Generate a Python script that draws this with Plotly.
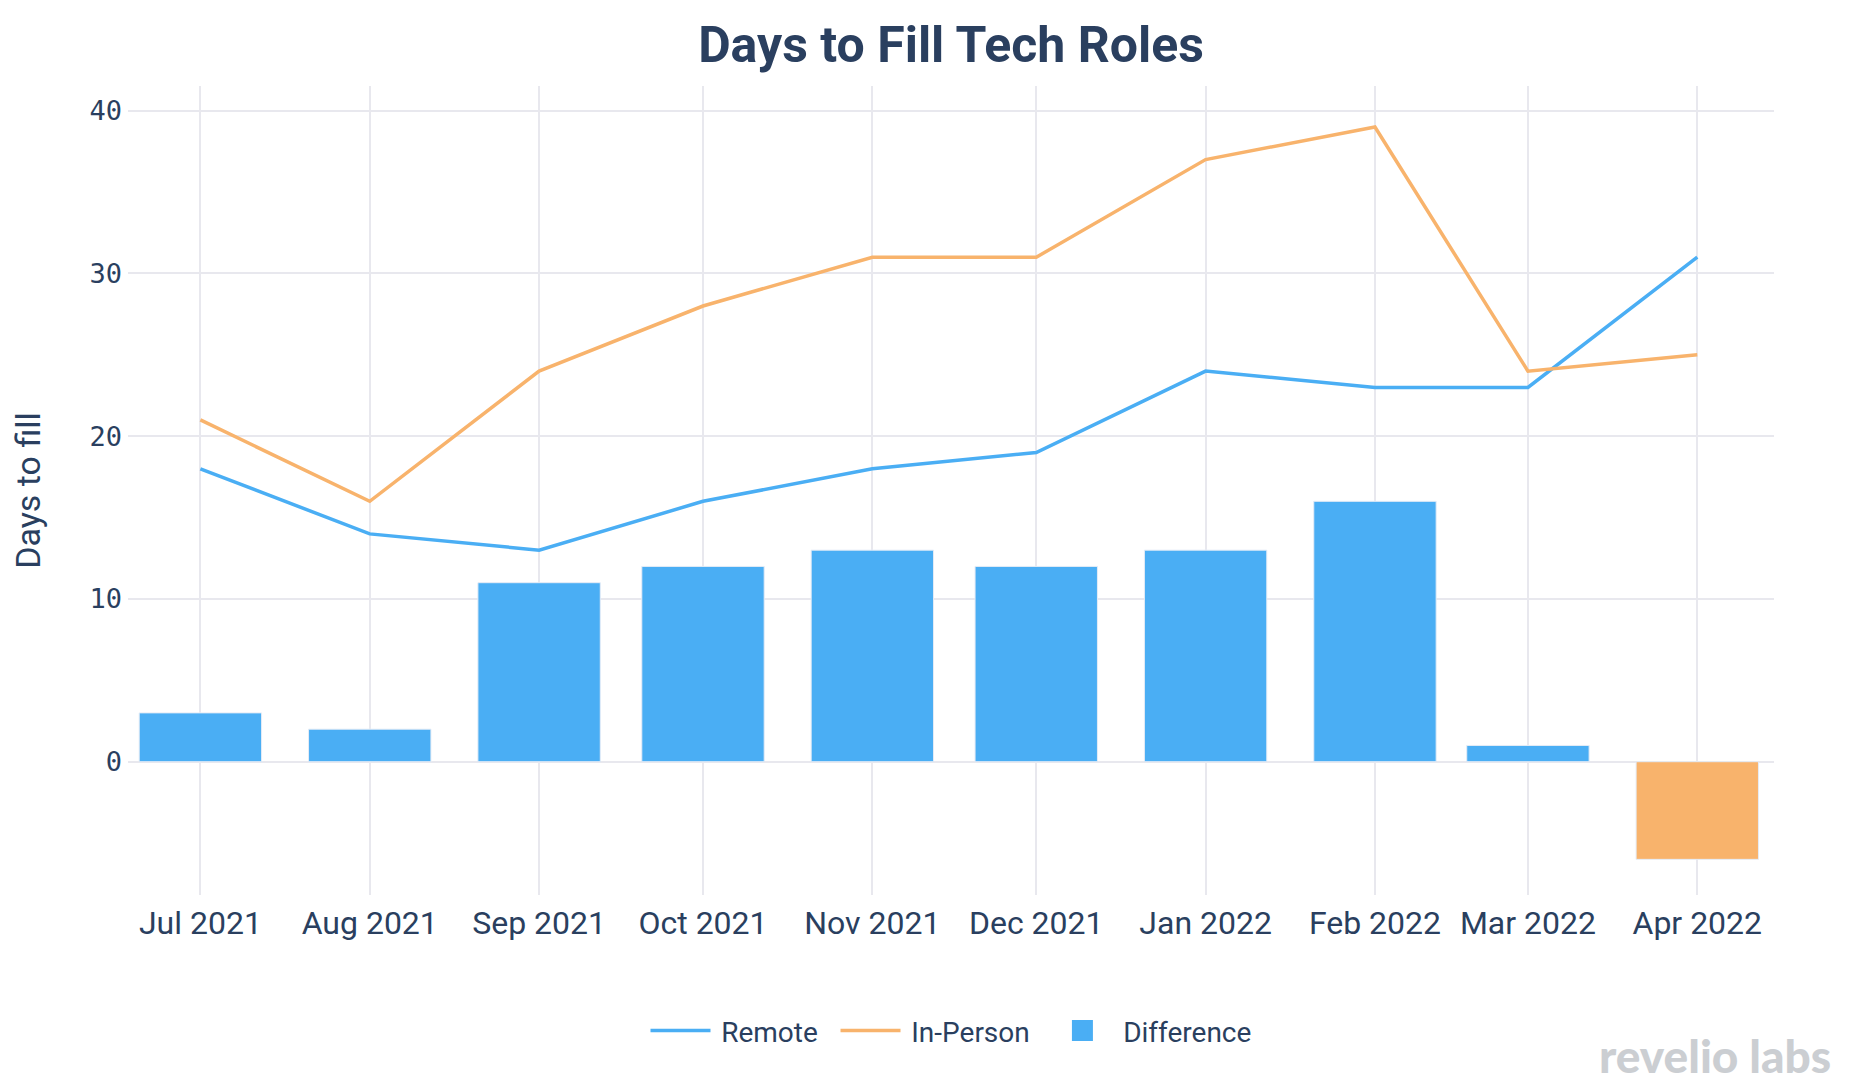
import plotly.graph_objects as go

months = ["2021-07-01", "2021-08-01", "2021-09-01", "2021-10-01", "2021-11-01",
          "2021-12-01", "2022-01-01", "2022-02-01", "2022-03-01", "2022-04-01"]
remote = [18, 14, 13, 16, 18, 19, 24, 23, 23, 31]
in_person = [21, 16, 24, 28, 31, 31, 37, 39, 24, 25]
difference = [3, 2, 11, 12, 13, 12, 13, 16, 1, -6]

BLUE = "#4AAEF4"
ORANGE = "#F8B36C"
TEXT = "#2a3f5f"

bar_colors = [BLUE if d >= 0 else ORANGE for d in difference]

LEAD = "\u2009"
TRAIL = "\u00a0\u2009"

fig = go.Figure()
fig.add_trace(go.Scatter(x=months, y=remote, name=LEAD + "Remote" + TRAIL, mode="lines",
                         line=dict(color=BLUE, width=3.5)))
fig.add_trace(go.Scatter(x=months, y=in_person, name=LEAD + "In-Person" + TRAIL, mode="lines",
                         line=dict(color=ORANGE, width=3.5)))
fig.add_trace(go.Bar(x=months, y=difference, name="Difference", showlegend=False,
                     legendgroup="diff",
                     marker=dict(color=bar_colors, line=dict(color="#E5ECF6", width=1))))
# legend entry for the difference bars (larger square symbol)
fig.add_trace(go.Scatter(x=[None], y=[None], name=LEAD + "Difference", mode="markers",
                         legendgroup="diff",
                         marker=dict(symbol="square", size=20, color=BLUE,
                                     line=dict(color=BLUE, width=6))))

fig.update_layout(
    template="plotly_white",
    width=1854, height=1092,
    margin=dict(l=120, r=88, t=78, b=205),
    title=dict(text="<b>Days to Fill Tech Roles</b>", x=0.5, xref="paper", xanchor="center",
               y=0.967, yanchor="middle", font=dict(family="Roboto", size=50, color=TEXT)),
    font=dict(family="Roboto", color=TEXT, size=28),
    legend=dict(orientation="h", x=0.5, xanchor="center", y=-0.168, yanchor="middle",
                font=dict(family="Roboto", size=28, color=TEXT), traceorder="normal",
                itemwidth=60, itemsizing="trace"),
    showlegend=True,
    bargap=0.2,
)
fig.update_xaxes(type="date", range=["2021-06-17 18:00", "2022-04-15 01:00"],
                 tickvals=months, tickformat="%b %Y", showgrid=True,
                 gridcolor="#E8E8EE", gridwidth=1.5, automargin=False,
                 tickfont=dict(family="Roboto", size=32, color=TEXT), ticks="",
                 ticklabelstandoff=6, zeroline=False)
fig.update_yaxes(range=[-8.19, 41.52], tickvals=[0, 10, 20, 30, 40], showgrid=True,
                 gridcolor="#E8E8EE", gridwidth=1.5, zeroline=True, zerolinecolor="#E8E8EE",
                 zerolinewidth=1.5, automargin=False,
                 tickfont=dict(family="DejaVu Sans Mono", size=27, color=TEXT),
                 ticklabelstandoff=5,
                 title=dict(text="Days to fill", font=dict(family="Roboto", size=34, color=TEXT),
                            standoff=49))

fig.add_annotation(text="revelio labs", xref="paper", yref="paper",
                   x=1.036, xanchor="right", y=-0.199, yanchor="middle", showarrow=False,
                   font=dict(family="Lato", size=46, color="#CBCED2", weight=900))

fig.write_html("out.html")
